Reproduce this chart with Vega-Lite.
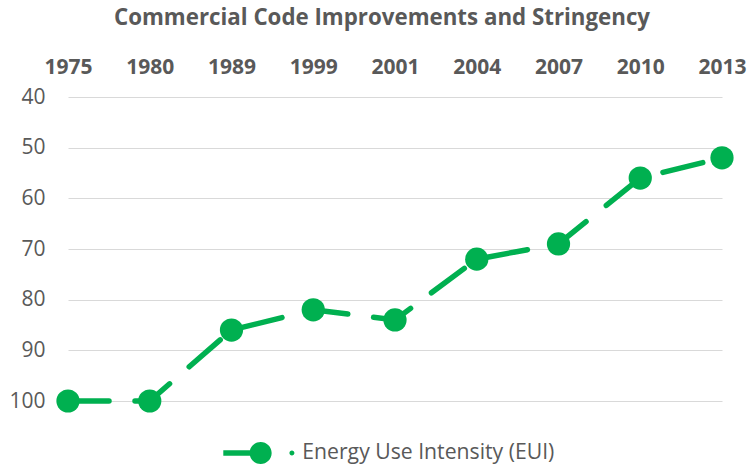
{
  "$schema": "https://vega.github.io/schema/vega-lite/v6.json",
  "width": 654,
  "height": 304,
  "autosize": {"type": "none"},
  "padding": {"left": 68, "top": 97, "right": 25, "bottom": 67},
  "background": "white",
  "config": {
    "font": "Open Sans",
    "view": {"stroke": null},
    "axis": {"labelColor": "#595959", "labelFont": "Open Sans", "domain": false, "ticks": false, "tickSize": 0, "title": null}
  },
  "title": {
    "text": "Commercial Code Improvements and Stringency",
    "fontSize": 22.3,
    "fontWeight": "bold",
    "color": "#595959",
    "font": "Open Sans",
    "anchor": "middle",
    "dx": -13,
    "baseline": "alphabetic",
    "offset": 9
  },
  "data": {
    "values": [
      {"year": "1975", "eui": 100, "series": "Energy Use Intensity (EUI)"},
      {"year": "1980", "eui": 100, "series": "Energy Use Intensity (EUI)"},
      {"year": "1989", "eui": 86, "series": "Energy Use Intensity (EUI)"},
      {"year": "1999", "eui": 82, "series": "Energy Use Intensity (EUI)"},
      {"year": "2001", "eui": 84, "series": "Energy Use Intensity (EUI)"},
      {"year": "2004", "eui": 72, "series": "Energy Use Intensity (EUI)"},
      {"year": "2007", "eui": 69, "series": "Energy Use Intensity (EUI)"},
      {"year": "2010", "eui": 56, "series": "Energy Use Intensity (EUI)"},
      {"year": "2013", "eui": 52, "series": "Energy Use Intensity (EUI)"}
    ]
  },
  "encoding": {
    "x": {
      "field": "year",
      "type": "ordinal",
      "sort": null,
      "scale": {"type": "point", "padding": 0},
      "axis": {"orient": "top", "labelAngle": 0, "labelFontSize": 21, "labelFontWeight": "bold", "labelPadding": 24, "labelBaseline": "alphabetic", "grid": false}
    },
    "y": {
      "field": "eui",
      "type": "quantitative",
      "scale": {"domain": [40, 100], "reverse": true, "nice": false},
      "axis": {"values": [40, 50, 60, 70, 80, 90, 100], "labelFontSize": 21, "labelPadding": 23, "labelBaseline": "middle", "grid": true, "gridColor": "#D9D9D9", "gridWidth": 1}
    }
  },
  "layer": [
    {
      "mark": {"type": "line", "color": "#00B050", "strokeWidth": 5.5, "strokeDash": [41, 26], "strokeCap": "round"}
    },
    {
      "mark": {"type": "point", "filled": true, "opacity": 1, "size": 540, "shape": "circle"},
      "encoding": {
        "color": {
          "field": "series",
          "type": "nominal",
          "scale": {"domain": ["Energy Use Intensity (EUI)"], "range": ["#00B050"]},
          "legend": {
            "title": null,
            "orient": "none",
            "legendX": 155.3,
            "legendY": 332.5,
            "padding": 0,
            "symbolType": "M-1,-0.117H0.3V0.117H-1Z M1.058,0A0.468,0.468 0 1,1 0.122,0A0.468,0.468 0 1,1 1.058,0Z M2.026,0A0.106,0.106 0 1,1 1.814,0A0.106,0.106 0 1,1 2.026,0Z",
            "symbolSize": 2209,
            "symbolStrokeWidth": 0,
            "symbolFillColor": "#00B050",
            "symbolOpacity": 1,
            "labelFontSize": 21.2,
            "labelColor": "#595959",
            "labelOffset": 32,
            "labelLimit": 500,
            "labelFont": "Open Sans"
          }
        }
      }
    }
  ]
}
